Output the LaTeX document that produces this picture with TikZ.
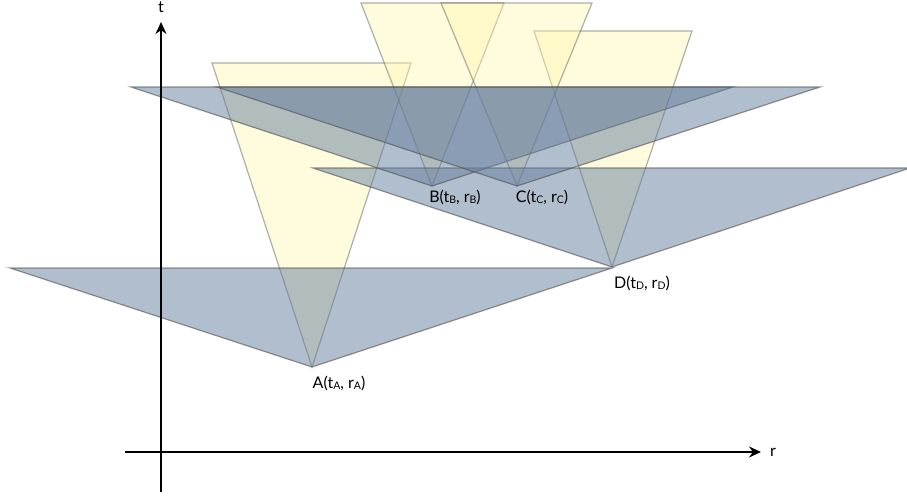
\documentclass[tikz,border=0pt]{standalone}
\usepackage{fontspec}
\setmainfont{Lato}
\usetikzlibrary{arrows.meta}
\definecolor{cone}{RGB}{255,246,170}
\definecolor{band}{RGB}{100,125,155}
\definecolor{edge}{RGB}{80,80,80}
\newcommand{\sbs}[1]{\raisebox{-1pt}{\fontsize{10.5}{10.5}\selectfont #1}}
\begin{document}
\begin{tikzpicture}[x=1pt,y=-1pt,
  conefill/.style={fill=cone, fill opacity=0.4, draw=edge, draw opacity=0.45, line width=1.2pt},
  bandfill/.style={fill=band, fill opacity=0.5, draw=edge, draw opacity=0.6, line width=1.2pt},
  axis/.style={line width=2.4pt, -{Stealth[length=12pt,width=11pt]}},
  lbl/.style={font=\fontsize{16}{16}\selectfont, inner sep=0pt}]
\useasboundingbox (0,0) rectangle (907,497);
% event points
\coordinate (A) at (312,367);
\coordinate (B) at (432,186);
\coordinate (C) at (517,186);
\coordinate (D) at (612,267);
% cone corners
\coordinate (Ayl) at (212,63);  \coordinate (Ayr) at (411,63);
\coordinate (Byl) at (361,3);   \coordinate (Byr) at (504,3);
\coordinate (Cyl) at (441,3);   \coordinate (Cyr) at (592,3);
\coordinate (Dyl) at (534,31);  \coordinate (Dyr) at (692,31);
\coordinate (Abl) at (10,268);  \coordinate (Abr) at (612,268);
\coordinate (Bbl) at (131,87);  \coordinate (Bbr) at (733,87);
\coordinate (Cbl) at (217,87);  \coordinate (Cbr) at (820,87);
\coordinate (Dbl) at (313,168); \coordinate (Dbr) at (910,168);
% yellow cones
\path[conefill] (Ayl) -- (Ayr) -- (A) -- cycle;
\path[conefill] (Dyl) -- (Dyr) -- (D) -- cycle;
\path[conefill] (Byl) -- (Byr) -- (B) -- cycle;
\path[conefill] (Cyl) -- (Cyr) -- (C) -- cycle;
% blue bands
\path[bandfill] (Abl) -- (Abr) -- (A) -- cycle;
\path[bandfill] (Dbl) -- (Dbr) -- (D) -- cycle;
\path[bandfill] (Bbl) -- (Bbr) -- (B) -- cycle;
\path[bandfill] (Cbl) -- (Cbr) -- (C) -- cycle;
% axes
\coordinate (tb) at (161,492); \coordinate (tt) at (161,22);
\coordinate (rl) at (125,452); \coordinate (rr) at (761,452);
\draw[axis] (tb) -- (tt);
\draw[axis] (rl) -- (rr);
\node[lbl] (tlab) at (161,7) {t};
\node[lbl] (rlab) at (773,452) {r};
% labels
\node[lbl] (Alab) at (339,383) {A(t\sbs{A}, r\sbs{A})};
\node[lbl] (Blab) at (455,197) {B(t\sbs{B}, r\sbs{B})};
\node[lbl] (Clab) at (542,197) {C(t\sbs{C}, r\sbs{C})};
\node[lbl] (Dlab) at (642,283) {D(t\sbs{D}, r\sbs{D})};
\end{tikzpicture}
\end{document}
